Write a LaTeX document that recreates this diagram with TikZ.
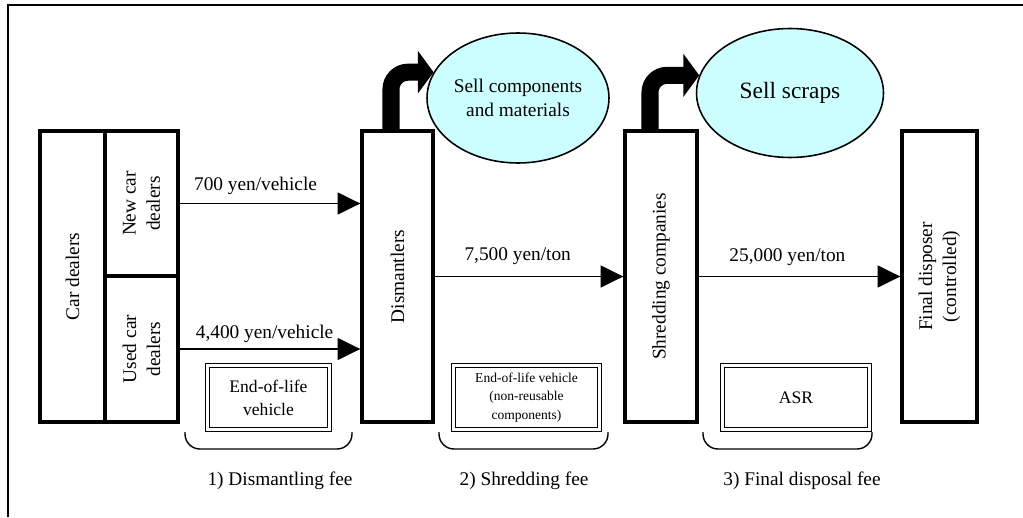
\documentclass[tikz,border=0pt]{standalone}
\usepackage{fontspec}
\setmainfont{Liberation Serif}
\usetikzlibrary{shapes,positioning,calc,arrows.meta}
\definecolor{sellcyan}{RGB}{204,255,255}

\begin{document}
\begin{tikzpicture}[x=0.02cm,y=-0.02cm,
    font=\fontsize{11}{13.7}\selectfont,
    stage/.style 2 args={draw, line width=1.9pt, rotate=90, minimum width=#1, minimum height=#2, inner sep=1pt, align=center},
    sell/.style 2 args={ellipse, draw, line width=0.9pt, fill=sellcyan, minimum width=#1, minimum height=#2, inner sep=0pt, align=center},
    waste/.style={draw, double, double distance=1.4pt, line width=0.6pt, minimum width=#1, minimum height=1.28cm, inner sep=1pt, align=center},
    flow/.style={-{Triangle[length=13pt,width=12.5pt]}, line width=1.1pt},
    bent/.style={-{Triangle[length=9pt,width=24pt]}, line width=9.7pt, rounded corners=0.34cm},
    brace/.style={line width=0.8pt, rounded corners=0.3cm}]
  \useasboundingbox (0,0) rectangle (1023,517);
  \draw[line width=1.2pt] (8,517) -- (8,5) -- (1023,5);

  \node[stage={5.82cm}{1.3cm}] (cardealers) at (72.5,276.5) {Car dealers};
  \node[stage={2.9cm}{1.46cm}] (newdealers) at (141.5,203.5) {New car\\dealers};
  \node[stage={2.92cm}{1.46cm}] (useddealers) at (141.5,349) {Used car\\dealers};
  \node[stage={5.82cm}{1.42cm}] (dismantlers) at (397.5,276.5) {Dismantlers};
  \node[stage={5.82cm}{1.44cm}] (shredding) at (661,276.5) {Shredding companies};
  \node[stage={5.82cm}{1.5cm}] (final) at (939.5,276.5) {Final disposer\\(controlled)};

  \node[sell={3.64cm}{2.6cm}] (sellparts) at (518,98) {Sell components\\and materials};
  \node[sell={3.74cm}{2.58cm}, font=\fontsize{13.3}{16}\selectfont] (sellscraps) at (790,93) {Sell scraps};

  \node[waste=2.44cm, font=\fontsize{10}{13}\selectfont] (eolvehicle) at (268.5,397.5) {End-of-life\\vehicle};
  \node[waste=2.92cm, font=\fontsize{7.7}{10.5}\selectfont] (eolresidue) at (526.5,397.5) {End-of-life vehicle\\(non-reusable\\components)};
  \node[waste=2.94cm, font=\fontsize{10}{13}\selectfont] (asr) at (796,397.5) {ASR};

  % FEES
  \draw[flow] (newdealers.south) -- (newdealers.south -| dismantlers.north)
    node[above=1pt, pos=0.42] (newfee) {700 yen/vehicle};
  \draw[flow] (useddealers.south) -- (useddealers.south -| dismantlers.north)
    node[above=0pt, pos=0.47] (usedfee) {4,400 yen/vehicle};
  \draw[flow] (dismantlers.south) -- (shredding.north)
    node[above=3pt, pos=0.44] (shredfee) {7,500 yen/ton};
  \draw[flow] (shredding.south) -- (final.north)
    node[above=2pt, pos=0.44] (disposalfee) {25,000 yen/ton};

  % SALES
  \draw[bent] ($(dismantlers.east)+(-6.5,0)$) |- (sellparts.163);
  \draw[bent] ($(shredding.east)+(-11,0)$) |- (sellscraps.169);

  \draw[brace] (185,432) -- (185,449) -- (352,449) -- (352,432);
  \draw[brace] (439,432) -- (439,449) -- (608,449) -- (608,432);
  \draw[brace] (703,432) -- (703,449) -- (872,449) -- (872,432);

  \node (dismantlingfee) at (280,481) {1) Dismantling fee};
  \node (shreddingfee) at (524,481) {2) Shredding fee};
  \node (finalfee) at (802,481) {3) Final disposal fee};
\end{tikzpicture}
\end{document}
